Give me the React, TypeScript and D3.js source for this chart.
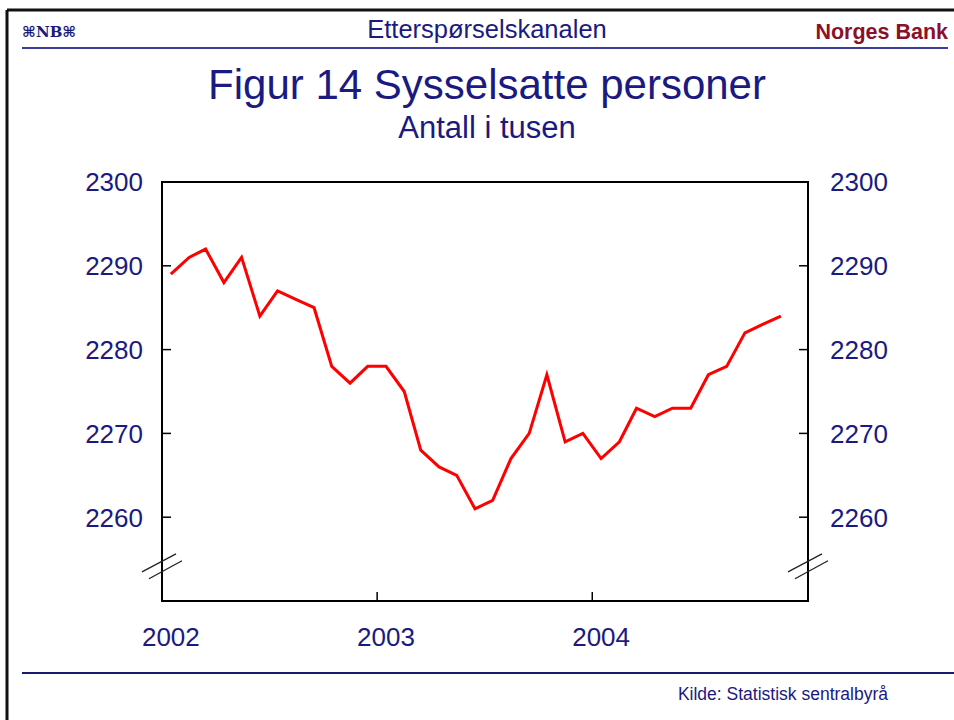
import React from 'react';
import * as d3 from 'd3';

// Sysselsatte personer, antall i tusen, månedlig jan 2002 - nov 2004
const startYear = 2002;
const values = [
  2289, 2291, 2292, 2288, 2291, 2284, 2287, 2286, 2285, 2278, 2276, 2278,
  2278, 2275, 2268, 2266, 2265, 2261, 2262, 2267, 2270, 2277, 2269, 2270,
  2267, 2269, 2273, 2272, 2273, 2273, 2277, 2278, 2282, 2283, 2284,
];
const yTicks = [2260, 2270, 2280, 2290, 2300];
const yearLabels = [2002, 2003, 2004];

const navy = '#1a1a80';
const font = 'Arial, "Liberation Sans", Helvetica, sans-serif';

const App = () => {
  const margin = { top: 182, right: 146, bottom: 119, left: 162 };
  const width = 954;
  const height = 720;
  const innerW = width - margin.left - margin.right;
  const innerH = height - margin.top - margin.bottom;

  const x = d3.scaleTime()
    .domain([new Date(startYear, 0, 1), new Date(startYear + 3, 0, 1)])
    .range([0, innerW]);
  const y = d3.scaleLinear().domain([2250, 2300]).range([innerH, 0]);

  const points = values.map((v, i) => ({ date: new Date(startYear, i, 16), value: v }));
  const line = d3.line<{ date: Date; value: number }>()
    .x(d => x(d.date))
    .y(d => y(d.value));

  // axis break sits a bit above the bottom of the frame
  const breakY = y(2254.2);
  const breakMark = (cx: number) => (
    <g stroke="#222" strokeWidth={1.3}>
      <line x1={cx - 20} y1={breakY + 6} x2={cx + 14} y2={breakY - 12} />
      <line x1={cx - 13} y1={breakY + 13} x2={cx + 20} y2={breakY - 5} />
    </g>
  );

  return (
    <svg width={width} height={height} style={{ position: 'absolute', left: 0, top: 0, background: '#fff' }} fontFamily={font}>
      {/* page frame */}
      <line x1={7} y1={10} x2={954} y2={10} stroke="#111" strokeWidth={3} />
      <line x1={7} y1={10} x2={7} y2={720} stroke="#111" strokeWidth={3} />

      {/* header */}
      <text x={22} y={37} fontSize={15} fontWeight="bold" fill={navy} fontFamily='"DejaVu Serif", serif'>⌘NB⌘</text>
      <text x={487} y={38} fontSize={25.5} fill={navy} textAnchor="middle">Etterspørselskanalen</text>
      <text x={948} y={39} fontSize={21.5} fontWeight="bold" fill="#8b1028" textAnchor="end">Norges Bank</text>
      <line x1={22} y1={48} x2={948} y2={48} stroke="#3c3c9c" strokeWidth={2} />

      {/* titles */}
      <text x={487} y={99} fontSize={42} fill={navy} textAnchor="middle">Figur 14 Sysselsatte personer</text>
      <text x={487} y={138} fontSize={31} fill={navy} textAnchor="middle">Antall i tusen</text>

      <g transform={`translate(${margin.left},${margin.top})`}>
        {/* y ticks and labels */}
        {yTicks.map(t => (
          <g key={t}>
            <line x1={0} x2={9} y1={y(t)} y2={y(t)} stroke="#000" strokeWidth={1.5} />
            <line x1={innerW - 9} x2={innerW} y1={y(t)} y2={y(t)} stroke="#000" strokeWidth={1.5} />
            <text x={-19} y={y(t)} dy="0.36em" fontSize={26} fill={navy} textAnchor="end">{t}</text>
            <text x={innerW + 22} y={y(t)} dy="0.36em" fontSize={26} fill={navy}>{t}</text>
          </g>
        ))}
        {/* x ticks and labels */}
        {yearLabels.map(yr => (
          <g key={yr}>
            <line x1={x(new Date(yr, 0, 1))} x2={x(new Date(yr, 0, 1))} y1={innerH} y2={innerH - 9} stroke="#000" strokeWidth={1.5} />
            <text x={x(new Date(yr, 0, 16))} y={innerH + 45} fontSize={26} fill={navy} textAnchor="middle">{yr}</text>
          </g>
        ))}

        <path d={line(points) ?? ''} fill="none" stroke="#ff0000" strokeWidth={3} strokeLinejoin="miter" />

        <rect x={0} y={0} width={innerW} height={innerH} fill="none" stroke="#000" strokeWidth={2} />
        {breakMark(0)}
        {breakMark(innerW)}
      </g>

      {/* footer */}
      <line x1={22} y1={673} x2={954} y2={673} stroke="#1a1a6e" strokeWidth={2} />
      <text x={888} y={700} fontSize={17.5} fill={navy} textAnchor="end">Kilde: Statistisk sentralbyrå</text>
    </svg>
  );
};

export default App;
